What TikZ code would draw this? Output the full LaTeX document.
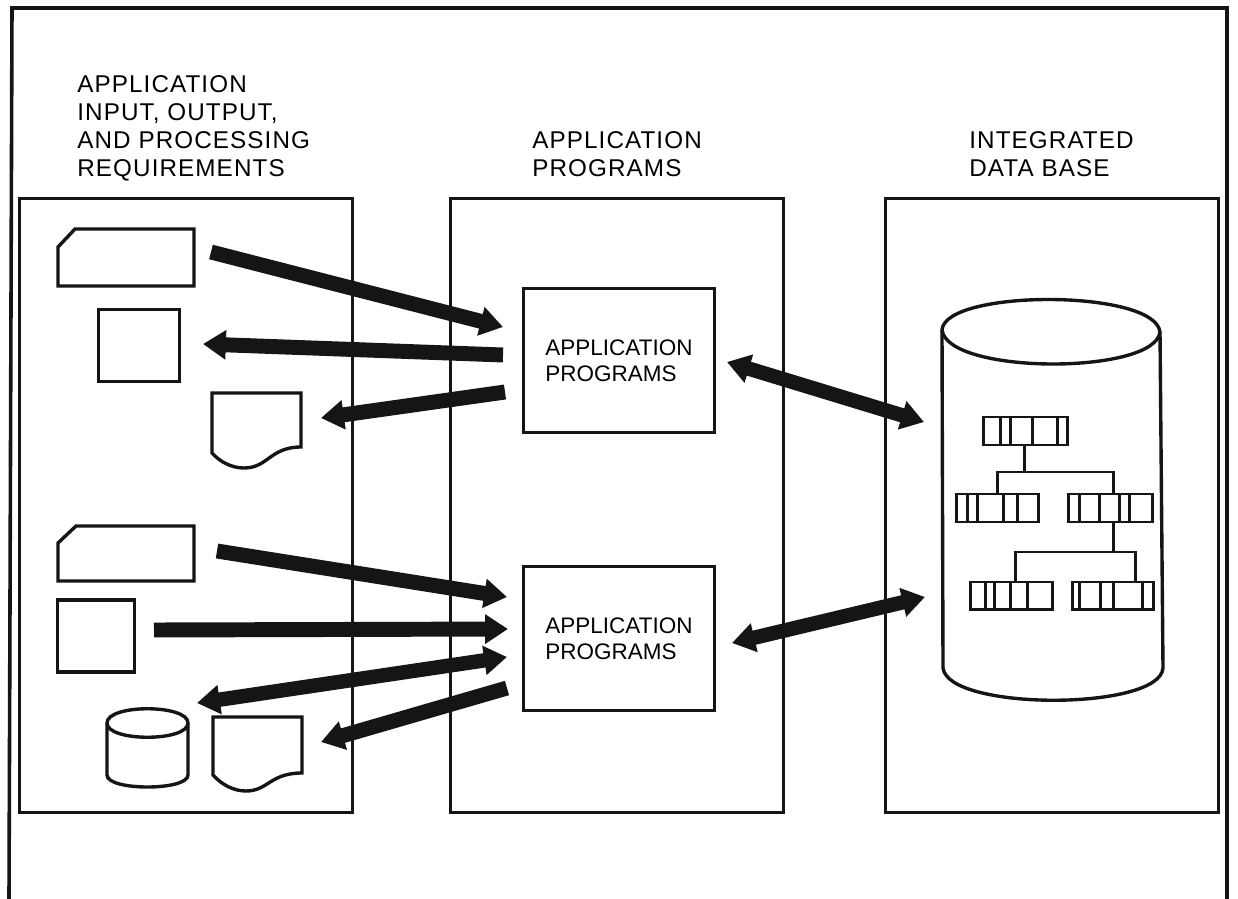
\documentclass[tikz,border=0pt]{standalone}
\usepackage{fontspec}
\setmainfont{Liberation Sans}
\newfontfamily\headfont[LetterSpace=4.5]{Liberation Sans}
\usetikzlibrary{arrows.meta}
\tikzset{
  x=0.02cm,y=-0.02cm,
  frame/.style={draw=ink,line width=3.6*0.567pt},
  panel/.style={draw=ink,line width=3*0.567pt,minimum width=334*0.567pt,minimum height=616*0.567pt,inner sep=0pt},
  progbox/.style={draw=ink,line width=3.2*0.567pt,minimum width=192*0.567pt,minimum height=144*0.567pt,align=left,inner sep=0pt,font=\fontsize{12.8}{14.7}\selectfont},
  sym/.style={draw=ink,line width=3.4*0.567pt,inner sep=0pt},
  rec/.style={draw=ink,line width=3*0.567pt},
  head/.style={anchor=south west,align=left,inner sep=0pt,text depth=0pt,font=\headfont\fontsize{13.8}{15.9}\selectfont},
  one/.style={draw=ink,line width=15*0.567pt,-{Triangle[length=13pt,width=16pt]}},
  both/.style={draw=ink,line width=14.5*0.567pt,{Triangle[length=13pt,width=16pt]}-{Triangle[length=13pt,width=16pt]}},
}
\definecolor{ink}{HTML}{151515}
\begin{document}
\begin{tikzpicture}
\useasboundingbox (0,0) rectangle (1238,899);
\fill[white] (0,0) rectangle (1238,899);
% outer frame
\draw[frame] (9,899) -- (12,8) -- (1227,8) -- (1227,899);
% panels
\node[panel] (p1) at (186,505.5) {};
\node[panel] (p2) at (617,505.5) {};
\node[panel] (p3) at (1052,505.5) {};
% headings
\node[head] (h1) at (77,177) {APPLICATION\\INPUT, OUTPUT,\\AND PROCESSING\\REQUIREMENTS};
\node[head] (h2) at (532,177) {APPLICATION\\PROGRAMS};
\node[head] (h3) at (969,177) {INTEGRATED\\DATA BASE};
% program boxes
\node[progbox] (a1) at (619,360.5) {APPLICATION\\PROGRAMS};
\node[progbox] (a2) at (619,638.5) {APPLICATION\\PROGRAMS};
% upper left symbols
\draw[sym] (58,247) -- (75,229) -- (194,229) -- (194,286) -- (58,286) -- cycle;
\node[sym,minimum width=81*0.567pt,minimum height=72*0.567pt] (s2) at (139,345.5) {};
\draw[sym] (212,393) -- (301,393) -- (301,447) .. controls (270,447) and (268,468) .. (244,468) .. controls (232,468) and (220,462) .. (212,453) -- cycle;
% lower left symbols
\draw[sym] (58,543) -- (76,526) -- (194,526) -- (194,581) -- (58,581) -- cycle;
\node[sym,minimum width=77*0.567pt,minimum height=72*0.567pt] (s5) at (96,636) {};
\draw[sym] (107,723) .. controls (107,704) and (188,704) .. (188,723) -- (188,775) .. controls (188,791) and (107,791) .. (107,775) -- cycle;
\draw[sym] (107,723) .. controls (107,742) and (188,742) .. (188,723);
\draw[sym] (213,717) -- (302,717) -- (302,773) .. controls (270,773) and (268,791) .. (246,791) .. controls (234,791) and (222,785) .. (213,775) -- cycle;
% big cylinder
\draw[sym] (942,330) .. controls (945,289) and (1155,289) .. (1160,332) -- (1163,668) .. controls (1160,711) and (948,711) .. (943,668) -- cycle;
\draw[sym] (942,330) .. controls (948,375) and (1155,375) .. (1160,332);
% tree
\draw[rec] (983,417) rectangle (1067,445);
\foreach \x in {1000,1010,1032,1057} \draw[rec] (\x,417) -- (\x,445);
\draw[rec] (956,494) rectangle (1038,522);
\foreach \x in {967,977,1003,1017} \draw[rec] (\x,494) -- (\x,522);
\draw[rec] (1068,494) rectangle (1152,522);
\foreach \x in {1079,1099,1119,1129} \draw[rec] (\x,494) -- (\x,522);
\draw[rec] (970,582) rectangle (1052,609);
\foreach \x in {985,994,1010,1027} \draw[rec] (\x,582) -- (\x,609);
\draw[rec] (1072,582) rectangle (1153,609);
\foreach \x in {1079,1100,1113,1142} \draw[rec] (\x,582) -- (\x,609);
\coordinate (t0) at (1024,445);
\coordinate (t1) at (1024,472);
\coordinate (t2) at (997,472);
\coordinate (t3) at (997,494);
\coordinate (t4) at (1113,472);
\coordinate (t5) at (1113,494);
\coordinate (t6) at (1113,522);
\coordinate (t7) at (1113,552);
\coordinate (t8) at (1015,552);
\coordinate (t9) at (1015,582);
\coordinate (t10) at (1135,552);
\coordinate (t11) at (1135,582);
\draw[rec] (t0) -- (t1) (t3) -- (t2) -- (t4) -- (t5) (t6) -- (t7) (t9) -- (t8) -- (t10) -- (t11);
% arrow ends
\coordinate (e1a) at (211,252); \coordinate (e1b) at (503,327);
\coordinate (e2a) at (503,355); \coordinate (e2b) at (203,344);
\coordinate (e3a) at (505,392); \coordinate (e3b) at (321,418);
\coordinate (e4a) at (217,551); \coordinate (e4b) at (507,597);
\coordinate (e5a) at (154,630); \coordinate (e5b) at (508,629);
\coordinate (e6a) at (507,657); \coordinate (e6b) at (197,703);
\coordinate (e7a) at (507,688); \coordinate (e7b) at (321,742);
\coordinate (e8a) at (727,362); \coordinate (e8b) at (924,422);
\coordinate (e9a) at (732,643); \coordinate (e9b) at (925,597);
\draw[one] (e1a) -- (e1b);
\draw[one] (e2a) -- (e2b);
\draw[one] (e3a) -- (e3b);
\draw[one] (e4a) -- (e4b);
\draw[one] (e5a) -- (e5b);
\draw[both] (e6b) -- (e6a);
\draw[one] (e7a) -- (e7b);
\draw[both] (e8a) -- (e8b);
\draw[both] (e9a) -- (e9b);
\end{tikzpicture}
\end{document}
